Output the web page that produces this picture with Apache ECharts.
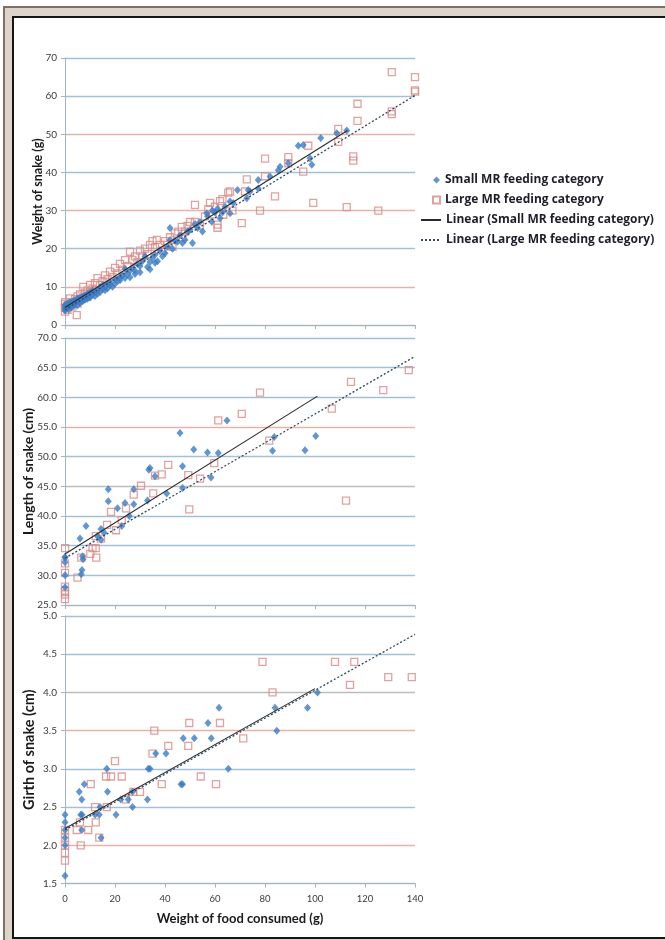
<!DOCTYPE html>
<html><head><meta charset="utf-8">
<script src="https://cdn.jsdelivr.net/npm/echarts@6/dist/echarts.min.js"></script>
<style>
html,body{margin:0;padding:0;width:665px;height:940px;overflow:hidden;background:#fff;}
#outer{position:absolute;left:3px;top:6px;width:700px;height:960px;background:#ddd5cc;border-left:2px solid #7f7064;border-top:2px solid #7f7064;}
#inner{position:absolute;left:12px;top:16px;width:700px;height:919px;background:#fff;border:2px solid #151515;}
#chart{position:absolute;left:0;top:0;width:665px;height:940px;}
</style></head>
<body><div id="outer"></div><div id="inner"></div><div id="chart"></div>
<script>
// ---------- data (x = weight of food consumed, g) ----------
const foodTicks = [0, 20, 40, 60, 80, 100, 120, 140];
const weightTicks = [0, 10, 20, 30, 40, 50, 60, 70];
const lengthTicks = [25, 30, 35, 40, 45, 50, 55, 60, 65, 70];
const girthTicks = [1.5, 2.0, 2.5, 3.0, 3.5, 4.0, 4.5, 5.0];

const weightSmall = [[0,4.2],[0,4.8],[0,5.3],[0,3.8],[1,4.5],[1,5.6],[1.5,4.1],[2,5],[2,6],[2.5,4.6],[3,5.4],[3,6.2],[3.5,5],[4,6.5],[4,5.6],[4.5,6.1],[5,5.2],[5,7],[5.5,6.4],[6,7.2],[6,5.8],[6.5,6.6],[7,7.5],[7,6.2],[7.5,7],[8,7.8],[8,6.6],[8.5,7.3],[9,8.2],[9,6.9],[9.5,7.7],[10,8.5],[10,7.2],[11,8],[11,9],[12,8.6],[12,7.6],[13,9.2],[13,8.2],[14,9.8],[14,8.6],[15,9.4],[15,10.5],[16,9.1],[16,10],[17,10.8],[17,9.6],[18,11.2],[18,10.4],[19,10],[20,10.8],[20,12],[21,11.5],[22,12.6],[22,11.7],[23,13],[24,12.3],[24,14.7],[25,13.4],[26,12.5],[26,14.2],[27,15],[28,14.2],[28,13.4],[29,16],[30,13.8],[30,15.5],[31,16.8],[32,18],[33,15.2],[34,14.6],[34,16.5],[35,17.6],[36,18.4],[36,16.3],[37,16.7],[38,19.5],[39,18],[40,18.8],[41,20.5],[42,22.3],[42,25.4],[43,20],[44,22],[45,21.8],[46,23.5],[47,21.5],[48,22.3],[49,24.5],[50,25],[51,21.5],[52,26.5],[53,25.4],[54,27],[55,24.5],[56.7,29.3],[57,28.5],[58.7,27.1],[59,30],[60,29.5],[61,30.5],[62,28],[63,29.5],[64,31],[66,29.3],[66,32.4],[67.3,32],[69,35.4],[72.7,33.2],[73.3,35.4],[74,35],[77.3,35.8],[77.3,38],[82,38.9],[85.3,40.6],[86,41.5],[89.3,42.4],[93.3,47],[95.3,47.2],[98,43.7],[98.7,42],[102.3,49],[108.7,50.3],[112.7,51]];
const weightLarge = [[0,3.5],[0,4.5],[0,5.5],[0,6],[1,4],[1,5],[2,5.5],[2,7],[3,4.8],[3,6],[4.7,2.6],[4,6.8],[5,5.6],[5,7.5],[6,8],[6,6.5],[7.3,10],[7,7],[8,8.5],[9,7.5],[9,9],[10,10.5],[10,8],[11,9.5],[12,11],[12,9],[13,12.3],[14,10.5],[15,11.5],[16,13],[17,12],[18,14],[19,12.6],[20,15],[21,13.5],[22,16],[23,14.5],[24,17],[25,15.5],[26,19.2],[27,17],[28,18],[29,16.5],[30,19.5],[31,18],[32,20],[33,18.6],[34,21],[35,22],[36,20.5],[36.7,22.3],[38,21],[39,19.5],[40,22],[41,21],[42,23],[43,20.5],[44,24],[45.3,24.5],[46.7,25.7],[47,23],[48,24.5],[49,26],[50,27],[52,31.5],[52,27],[54,26],[56,28.5],[57.3,30.4],[58,32],[59,29],[60,31],[61,25.5],[61,26.3],[62,32.5],[63.3,28.9],[63,33],[65.3,34.7],[66,35],[67,30],[70.7,26.7],[72,35],[72.7,38.2],[78,30],[80,43.6],[80,39],[84,33.7],[89.3,44],[89.3,42.4],[95.3,40.2],[97.3,47],[99.3,32],[109.3,51.4],[109.3,48],[112.7,30.9],[115.3,44.2],[115.3,43.1],[117,58],[117,53.5],[125.3,30],[130.7,66.3],[130.7,56],[130.7,55.3],[140,65],[140,61.5],[140,61.2]];

const lengthSmall = [[0,33],[0,33.1],[0,32.2],[0,30],[0,28],[6,36.2],[6.8,30.9],[6.5,30.2],[7,33.2],[7.2,32.7],[8.4,38.3],[13,36.6],[14.4,37.8],[14.4,36],[15.6,37.2],[17.3,44.5],[17.3,42.5],[21,41.3],[22.7,38.3],[24,42.2],[25.7,40],[27.5,44.5],[27.5,42],[33,42.6],[33.5,47.8],[34,48.1],[36,46.7],[40.7,43.8],[46,54],[47,48.4],[47,44.7],[51.5,51.2],[57,50.7],[58.4,46.5],[61.3,50.6],[64.8,56.1],[83.7,53.3],[83,51],[96,51.1],[100.3,53.5]];
const lengthLarge = [[0,34.6],[0,32],[0,30.4],[0,28.1],[0,27.4],[0,26.8],[0,26],[5,29.6],[6.5,33],[10.1,33.6],[11,34.6],[12.3,34.6],[12.5,33],[12.3,36.6],[14.4,36.2],[16.8,38.5],[18.4,40.7],[20.4,37.6],[22.7,39.3],[24.4,41.3],[27.5,43.6],[30.4,45.1],[35.3,43.8],[36,46.8],[38.7,47],[41.3,48.6],[49.3,46.9],[49.7,41.1],[54,46.3],[59.7,48.9],[61.3,56.1],[70.7,57.2],[78,60.8],[81.7,52.7],[106.7,58.1],[112.4,42.6],[114.4,62.6],[127.3,61.2],[137.5,64.6]];

const girthSmall = [[0,2.4],[0,2.3],[0,2.2],[0,2.1],[0,2.0],[0,1.6],[5.7,2.7],[6.3,2.4],[6.8,2.4],[6.7,2.6],[6.7,2.2],[7.7,2.8],[12,2.4],[13.7,2.4],[14,2.5],[14.4,2.1],[16.7,3.0],[17,2.7],[20.4,2.4],[22.3,2.6],[25.3,2.6],[27,2.7],[27,2.5],[33,2.6],[33.3,3.0],[34,3.0],[36.3,3.2],[40.4,3.2],[46.4,2.8],[47,2.8],[47.3,3.4],[51.7,3.4],[57.2,3.6],[58.5,3.4],[61.6,3.8],[65.3,3.0],[84,3.8],[84.7,3.5],[97,3.8],[101,4.0]];
const girthLarge = [[0,2.2],[0,2.1],[0,2.0],[0,1.9],[0,1.8],[4.7,2.2],[6,2.3],[6.3,2.0],[9.3,2.2],[10.3,2.8],[12,2.5],[12.3,2.3],[13.7,2.1],[16.4,2.9],[16.7,2.5],[18.4,2.9],[20,3.1],[22.7,2.9],[24.4,2.6],[27.3,2.7],[30,2.7],[35,3.2],[35.7,3.5],[38.7,2.8],[41.3,3.3],[49.3,3.3],[49.7,3.6],[54.3,2.9],[60.4,2.8],[62,3.6],[71.3,3.4],[79,4.4],[83,4.0],[108,4.4],[114,4.1],[115.7,4.4],[129.3,4.2],[138.7,4.2]];

// trend line end points
const weightTrendSmall = [[0,4.6],[113,51]];
const weightTrendLarge = [[0,4.0],[140,60.2]];
const lengthTrendSmall = [[0,33.6],[101,60.2]];
const lengthTrendLarge = [[0,32.9],[140,66.9]];
const girthTrendSmall = [[0,2.22],[100,4.05]];
const girthTrendLarge = [[0,2.2],[140,4.76]];

const names = ['Small MR feeding category','Large MR feeding category','Linear (Small MR feeding category)','Linear (Large MR feeding category)'];
const yTitles = ['Weight of snake (g)','Length of snake (cm)','Girth of snake (cm)'];
const xTitle = 'Weight of food consumed (g)';

// ---------- styling ----------
const FONT = 'Lato, "Open Sans", sans-serif';
const LFONT = '"Open Sans", Lato, sans-serif';
const BLUE = '#3b7cc6', PINK = '#d98b87';
const GB = '#a2c0d6', GR = '#e6b3ab', GG = '#bdbdbd';
const gridTops = [58, 338, 616];
const gridHeights = [267, 267, 267.5];
const ySets = [
  {ticks: weightTicks, dec: 0, gap: 21, fs: 12.5, colors: [GG, GR, GB, GR, GB, GR, GB, GB]},
  {ticks: lengthTicks, dec: 1, gap: 30, fs: 14, colors: [GG, GB, GB, GB, GG, GB, GR, GB, GB, GB]},
  {ticks: girthTicks, dec: 1, gap: 28, fs: 14.5, colors: [GG, GR, GB, GB, GR, GG, GB, GB]}
];

const grids = gridTops.map((t, i) => ({left: 65, top: t, width: 350, height: gridHeights[i]}));
const xAxes = gridTops.map((t, i) => ({
  type: 'value', gridIndex: i, min: foodTicks[0], max: foodTicks[foodTicks.length - 1],
  interval: foodTicks[1] - foodTicks[0],
  axisLine: {show: true, lineStyle: {color: '#9fb6c6', width: 1}},
  axisTick: {show: true, length: 4, lineStyle: {color: '#9fb6c6'}},
  splitLine: {show: false},
  axisLabel: {show: i === 2, color: '#3a3a3a', fontSize: 9.5, fontFamily: FONT, margin: 10},
  name: i === 2 ? xTitle : '', nameLocation: 'middle', nameGap: 29, nameMoveOverlap: false,
  nameTextStyle: {fontFamily: FONT, fontWeight: 'bold', fontSize: 13, color: '#1a1a1a'}
}));
const yAxes = ySets.map((s, i) => ({
  type: 'value', gridIndex: i, min: s.ticks[0], max: s.ticks[s.ticks.length - 1],
  interval: +(s.ticks[1] - s.ticks[0]).toFixed(2),
  axisLine: {show: true, lineStyle: {color: '#9fb6c6', width: 1}},
  axisTick: {show: true, length: 4, lineStyle: {color: '#9fb6c6'}},
  splitLine: {show: true, lineStyle: {color: s.colors, width: 1.3}},
  axisLabel: {color: '#3a3a3a', fontSize: 10, fontFamily: FONT, margin: 8,
    formatter: v => v.toFixed(s.dec)},
  name: yTitles[i], nameLocation: 'middle', nameGap: s.gap, nameRotate: 90, nameMoveOverlap: false,
  nameTextStyle: {fontFamily: FONT, fontWeight: 'bold', fontSize: s.fs, color: '#1a1a1a'}
}));

const pointSets = [[weightSmall, weightLarge], [lengthSmall, lengthLarge], [girthSmall, girthLarge]];
const trendSets = [[weightTrendSmall, weightTrendLarge], [lengthTrendSmall, lengthTrendLarge], [girthTrendSmall, girthTrendLarge]];
const series = [];
pointSets.forEach((p, i) => {
  series.push({name: names[1], type: 'scatter', xAxisIndex: i, yAxisIndex: i, data: p[1],
    symbol: 'rect', symbolSize: 7,
    itemStyle: {color: 'rgba(255,255,255,0)', borderColor: PINK, borderWidth: 1.3}, z: 2});
  series.push({name: names[0], type: 'scatter', xAxisIndex: i, yAxisIndex: i, data: p[0],
    symbol: 'diamond', symbolSize: [7, 8],
    itemStyle: {color: BLUE}, z: 3});
});
trendSets.forEach((t, i) => {
  series.push({name: names[2], type: 'line', xAxisIndex: i, yAxisIndex: i, data: t[0],
    symbol: 'none', lineStyle: {color: '#2a2a2a', width: 1.1, type: 'solid'}, z: 4});
  series.push({name: names[3], type: 'line', xAxisIndex: i, yAxisIndex: i, data: t[1],
    symbol: 'none', lineStyle: {color: '#2c4a62', width: 1.3, type: [2, 2]}, z: 4});
});

const legendText = {fontFamily: LFONT, fontWeight: 'bold', fontSize: 12, color: '#1e1e2a', lineHeight: 14};
const hidden = {color: 'rgba(0,0,0,0)', borderWidth: 0, opacity: 0};
const chart = echarts.init(document.getElementById('chart'), null, {renderer: 'canvas'});
chart.setOption({
  animation: false,
  backgroundColor: 'transparent',
  grid: grids, xAxis: xAxes, yAxis: yAxes, series: series,
  legend: [
    {orient: 'vertical', left: 427, top: 168, itemWidth: 7, itemHeight: 7, itemGap: 6,
     selectedMode: false, textStyle: legendText,
     data: [{name: names[0], icon: 'diamond'}, {name: names[1], icon: 'rect'}]},
    {orient: 'vertical', left: 415, top: 208, itemWidth: 20, itemHeight: 7, itemGap: 6,
     selectedMode: false, textStyle: legendText,
     data: [{name: names[2], itemStyle: hidden}, {name: names[3], itemStyle: hidden}]}
  ]
});
</script></body></html>
